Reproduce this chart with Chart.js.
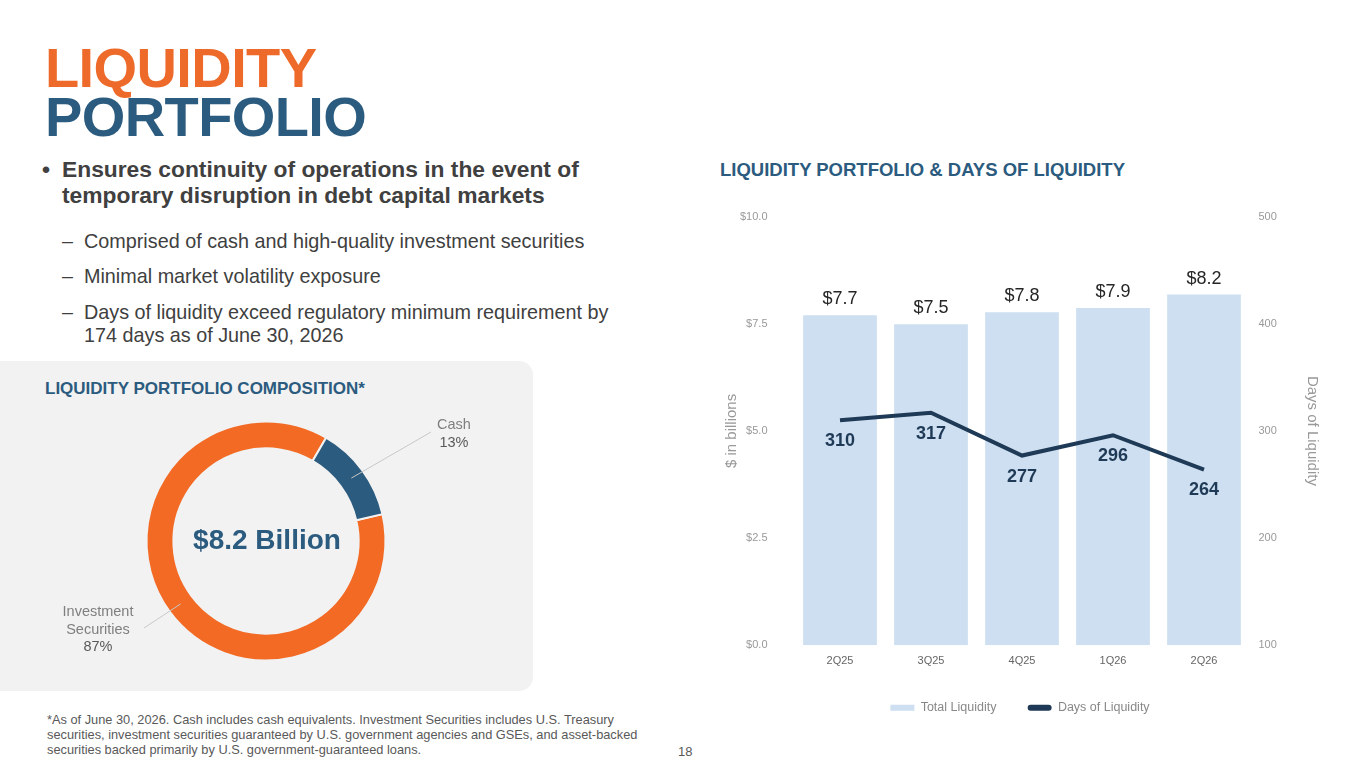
<!DOCTYPE html>
<html>
<head>
<meta charset="utf-8">
<script src="https://cdn.jsdelivr.net/npm/chart.js@4.4.1/dist/chart.umd.min.js"></script>
<style>
body { margin: 0; width: 1365px; height: 768px; position: relative; overflow: hidden; background: #fff; font-family: "Liberation Sans", Arial, sans-serif; }
.abs { position: absolute; white-space: nowrap; }
.big { font-weight: bold; font-size: 56px; line-height: 49px; left: 45px; letter-spacing: -0.6px; }
.bullet { left: 42px; top: 156px; font-weight: bold; font-size: 22.8px; line-height: 26px; color: #404040; }
.bullet span { position: absolute; }
.sub { left: 62px; font-size: 19.8px; line-height: 23px; color: #404040; }
.sub b { font-weight: normal; position: absolute; left: 0; }
.sub div { padding-left: 22px; }
.panel { position: absolute; left: 0; top: 361px; width: 533px; height: 330px; background: #f2f2f2; border-radius: 0 14px 14px 0; }
.head { font-weight: bold; color: #2b5b7e; }
.foot { left: 47px; top: 712px; font-size: 12.8px; line-height: 15px; color: #595959; }
canvas { position: absolute; }
</style>
</head>
<body>
<div class="abs big" style="top:43px;color:#ee6a2a">LIQUIDITY</div>
<div class="abs big" style="top:92px;color:#2b5b7e">PORTFOLIO</div>

<div class="abs bullet"><span style="left:0">•</span><div style="padding-left:20px">Ensures continuity of operations in the event of<br>temporary disruption in debt capital markets</div></div>

<div class="abs sub" style="top:230px"><b>–</b><div>Comprised of cash and high-quality investment securities</div></div>
<div class="abs sub" style="top:265px"><b>–</b><div>Minimal market volatility exposure</div></div>
<div class="abs sub" style="top:301px"><b>–</b><div>Days of liquidity exceed regulatory minimum requirement by<br>174 days as of June 30, 2026</div></div>

<div class="panel"></div>
<div class="abs head" style="left:45px;top:379px;font-size:17px;line-height:20px">LIQUIDITY PORTFOLIO COMPOSITION*</div>
<canvas id="donut" width="533" height="330" style="left:0;top:361px"></canvas>

<div class="abs head" style="left:720px;top:160px;font-size:18.5px;line-height:20px">LIQUIDITY PORTFOLIO &amp; DAYS OF LIQUIDITY</div>
<canvas id="combo" width="630" height="541" style="left:705px;top:183px"></canvas>

<div class="abs foot">*As of June 30, 2026. Cash includes cash equivalents. Investment Securities includes U.S. Treasury<br>securities, investment securities guaranteed by U.S. government agencies and GSEs, and asset-backed<br>securities backed primarily by U.S. government-guaranteed loans.</div>
<div class="abs foot" style="left:678px;top:744px;font-size:13px">18</div>

<script>
// chart data
const quarters = ['2Q25', '3Q25', '4Q25', '1Q26', '2Q26'];
const totalLiquidity = [7.7, 7.49, 7.77, 7.87, 8.18];
const daysOfLiquidity = [310, 317, 277, 296, 264];
const dollarTicks = [0, 2.5, 5, 7.5, 10];
const dayTicks = [100, 200, 300, 400, 500];

const compositionLabels = ['Investment Securities', 'Cash'];
const compositionShares = [87, 13];
const portfolioTotal = '$8.2 Billion';

const sans = '"Liberation Sans", Arial, sans-serif';

// labels over bars and under line points
const valueLabels = {
	id: 'valueLabels',
	afterDatasetsDraw(chart) {
		let ctx = chart.ctx;
		ctx.save();
		ctx.textAlign = 'center';
		ctx.textBaseline = 'middle';
		ctx.font = '18px ' + sans;
		ctx.fillStyle = '#262626';
		chart.getDatasetMeta(0).data.forEach((bar, i) => {
			ctx.fillText('$' + totalLiquidity[i].toFixed(1), bar.x, bar.y - 16);
		});
		ctx.font = 'bold 18px ' + sans;
		ctx.fillStyle = '#1f3a56';
		chart.getDatasetMeta(1).data.forEach((pt, i) => {
			ctx.fillText(daysOfLiquidity[i], pt.x, pt.y + 21);
		});
		ctx.restore();
	}
};

new Chart(document.getElementById('combo'), {
	data: {
		labels: quarters,
		datasets: [{
			type: 'bar',
			label: 'Total Liquidity',
			data: totalLiquidity,
			backgroundColor: '#cddff0',
			yAxisID: 'y',
			order: 2,
			categoryPercentage: 1,
			barPercentage: 0.81
		}, {
			type: 'line',
			label: 'Days of Liquidity',
			data: daysOfLiquidity,
			borderColor: '#1f3a56',
			backgroundColor: '#1f3a56',
			borderWidth: 4,
			pointRadius: 0,
			tension: 0,
			yAxisID: 'y1',
			order: 1
		}]
	},
	options: {
		responsive: false,
		animation: false,
		layout: { padding: 0 },
		scales: {
			x: {
				grid: { display: false, drawTicks: false },
				border: { display: false },
				ticks: { color: '#666', font: { family: sans, size: 11 }, padding: 9 },
				afterFit(scale) { scale.height = 25; }
			},
			y: {
				position: 'left',
				min: 0, max: 10,
				afterBuildTicks(scale) { scale.ticks = dollarTicks.map(v => ({ value: v })); },
				grid: { display: false, drawTicks: false },
				border: { display: false },
				ticks: { color: '#999', font: { family: sans, size: 11 }, padding: 27, callback: v => '$' + v.toFixed(1) },
				title: { display: true, text: '$ in billions', color: '#999', font: { family: sans, size: 15 }, padding: { top: 18, bottom: 0 } },
				afterFit(scale) { scale.width = 89.5; }
			},
			y1: {
				position: 'right',
				min: 100, max: 500,
				afterBuildTicks(scale) { scale.ticks = dayTicks.map(v => ({ value: v })); },
				grid: { display: false, drawTicks: false },
				border: { display: false },
				ticks: { color: '#999', font: { family: sans, size: 11 }, padding: 9 },
				title: { display: true, text: 'Days of Liquidity', color: '#999', font: { family: sans, size: 15 }, padding: { top: 14, bottom: 0 } },
				afterFit(scale) { scale.width = 85.5; }
			}
		},
		plugins: {
			tooltip: { enabled: false },
			legend: {
				position: 'bottom',
				labels: {
					color: '#888',
					font: { family: sans, size: 12.5 },
					boxWidth: 24,
					boxHeight: 6,
					padding: 31.25,
					useBorderRadius: true,
					sort: (a, b) => a.datasetIndex - b.datasetIndex,
					generateLabels(chart) {
						let items = Chart.defaults.plugins.legend.labels.generateLabels(chart);
						items.forEach(item => {
							item.lineWidth = 0;
							item.borderRadius = item.datasetIndex === 1 ? 3 : 0;
						});
						return items;
					}
				}
			}
		}
	},
	plugins: [valueLabels]
});

// centre text and leader-line labels for the donut
const donutLabels = {
	id: 'donutLabels',
	afterDatasetsDraw(chart) {
		let ctx = chart.ctx;
		let arcs = chart.getDatasetMeta(0).data;
		let cx = arcs[0].x, cy = arcs[0].y;
		ctx.save();
		ctx.textAlign = 'center';
		ctx.textBaseline = 'middle';
		ctx.font = 'bold 28px ' + sans;
		ctx.fillStyle = '#2b5b7e';
		ctx.fillText(portfolioTotal, cx + 1, cy);

		// label spots relative to the centre: [line end x, y, text x, first text y]
		let spots = [[-122, 87, -168, 71], [165, -109, 188, -116]];
		arcs.forEach((arc, i) => {
			let mid = (arc.startAngle + arc.endAngle) / 2;
			let r = (arc.innerRadius + arc.outerRadius) / 2;
			let s = spots[i];
			ctx.strokeStyle = '#c8c8c8';
			ctx.lineWidth = 1;
			ctx.beginPath();
			ctx.moveTo(cx + Math.cos(mid) * r, cy + Math.sin(mid) * r);
			ctx.lineTo(cx + s[0], cy + s[1]);
			ctx.stroke();
			let lines = compositionLabels[i].split(' ');
			lines.push(compositionShares[i] + '%');
			ctx.font = '14.5px ' + sans;
			lines.forEach((t, j) => {
				ctx.fillStyle = j === lines.length - 1 ? '#595959' : '#7f7f7f';
				ctx.fillText(t, cx + s[2], cy + s[3] + j * 17.5);
			});
		});
		ctx.restore();
	}
};

new Chart(document.getElementById('donut'), {
	type: 'doughnut',
	data: {
		labels: compositionLabels,
		datasets: [{
			data: compositionShares,
			backgroundColor: ['#f26a24', '#2b5b7e'],
			borderColor: '#f2f2f2',
			borderWidth: 2
		}]
	},
	options: {
		responsive: false,
		animation: false,
		cutout: '77.5%',
		rotation: 77,
		layout: { padding: { left: 145.5, right: 146.5, top: 59, bottom: 29 } },
		plugins: { legend: { display: false }, tooltip: { enabled: false } }
	},
	plugins: [donutLabels]
});
</script>
</body>
</html>
